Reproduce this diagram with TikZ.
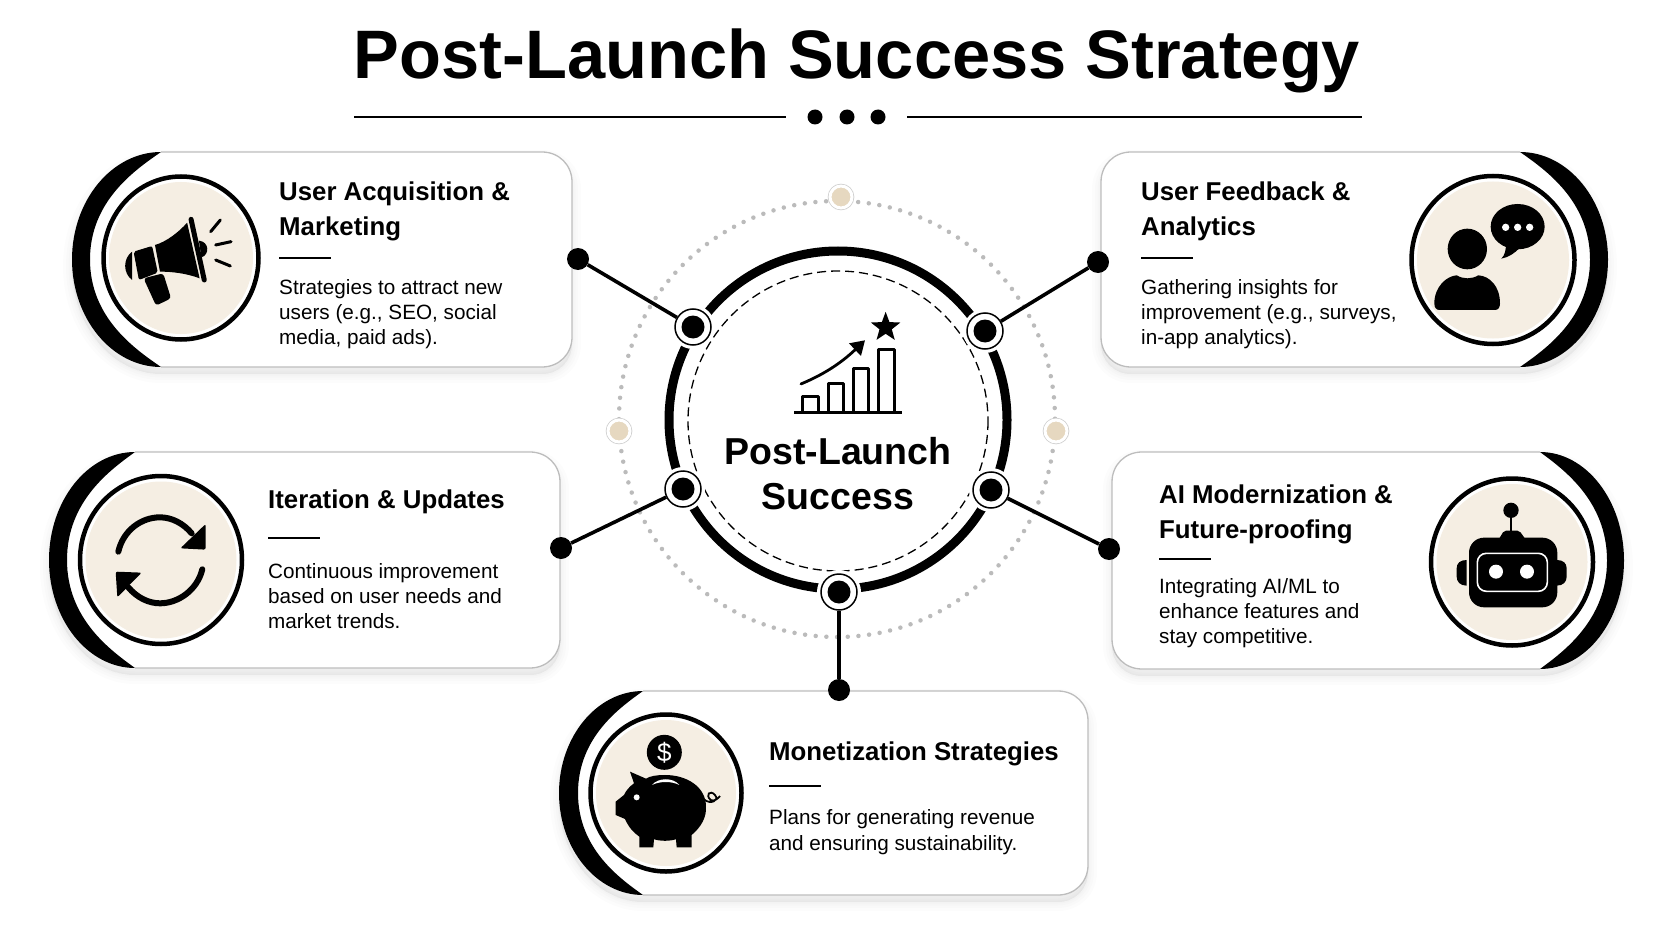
\documentclass[tikz,border=0pt]{standalone}
\usepackage{fontspec}
\setmainfont{Liberation Sans}
\usetikzlibrary{shapes.geometric}

\definecolor{cream}{HTML}{F5EEE3}
\definecolor{beige}{HTML}{E6D8C0}
\definecolor{edgegray}{HTML}{BDBDBD}
\definecolor{dotgray}{HTML}{BBBBBB}

% outer x, inner x, end x, right x, top, bottom
\newcommand{\cardshape}[6]{
    \pgfmathsetmacro\cardmid{(#5+#6)/2}
    \pgfmathsetmacro\cardsgn{#4>#3 ? 1 : -1}
    \pgfmathsetmacro\oa{#3-.55*(#3-#1)}
    \pgfmathsetmacro\ob{\cardmid-.55*(\cardmid-#5)}
    \pgfmathsetmacro\oc{\cardmid+.55*(\cardmid-#5)}
    \pgfmathsetmacro\ia{#3-.35*(#3-#2)}
    \pgfmathsetmacro\ib{#5+.16*(\cardmid-#5)}
    \pgfmathsetmacro\ic{#6-.16*(\cardmid-#5)}
    \pgfmathsetmacro\ra{#4-\cardsgn*30}
    \pgfmathsetmacro\rb{#4-\cardsgn*13}
    \def\cardedge{(#3,#5) -- (\ra,#5) .. controls (\rb,#5) and (#4,#5+13) .. (#4,#5+30)
        -- (#4,#6-30) .. controls (#4,#6-13) and (\rb,#6) .. (\ra,#6) -- (#3,#6)}
    \def\cardouter{.. controls (\oa,#6) and (#1,\oc) .. (#1,\cardmid)
        .. controls (#1,\ob) and (\oa,#5) .. (#3,#5)}
    \foreach \w in {18,12,7,3}
        \path[fill=black,draw=black,line width=\w pt,opacity=.012,yshift=-7pt] \cardedge \cardouter -- cycle;
    \fill[white] \cardedge \cardouter -- cycle;
    \draw[edgegray,line width=1.3pt] \cardedge;
    \fill[black] (#3,#6) \cardouter
        .. controls (\ia,\ib) and (#2,\ob) .. (#2,\cardmid)
        .. controls (#2,\oc) and (\ia,\ic) .. (#3,#6) -- cycle;
}

\begin{document}
\begin{tikzpicture}
    [
        x=1pt,y=-1pt,
        every edge/.style={draw,line width=3.6pt},
        headline/.style={anchor=base,inner sep=0,font=\fontsize{68.6}{69}\selectfont\bfseries},
        centertext/.style={align=center,inner sep=0,font=\fontsize{37.5}{45}\selectfont\bfseries},
        heading/.style={anchor=west,align=left,inner sep=0,font=\fontsize{25.8}{35}\selectfont\bfseries},
        body/.style={anchor=west,align=left,inner sep=0,font=\fontsize{20.7}{25.3}\selectfont},
        rulemark/.style={line width=2pt},
        medal/.style 2 args={ellipse,draw,fill=white,line width=4.5pt,inner sep=0,minimum width=#1pt,minimum height=#2pt},
        medalfill/.style 2 args={ellipse,fill=cream,inner sep=0,minimum width=#1pt,minimum height=#2pt},
        hub/.style={circle,draw,fill=white,line width=1.5pt,inner sep=0,minimum size=36pt,
            preaction={draw=white,line width=8pt},
            path picture={\fill[black] (path picture bounding box.center) circle (11.5pt);}},
        enddot/.style={circle,fill,inner sep=0,minimum size=22pt},
        bead/.style={circle,fill=beige,draw=white,line width=3pt,inner sep=0,minimum size=22pt,
            preaction={draw=black!20,line width=4.5pt}},
        smalldot/.style={circle,fill,inner sep=0,minimum size=15pt},
    ]

    \useasboundingbox[fill=white] (0,0) rectangle (1672,941);

    % title
    \node (title) at (857,79) [headline] {Post-Launch Success Strategy};
    \node (mark1) at (815,117) [smalldot] {};
    \node (mark2) at (847,117) [smalldot] {};
    \node (mark3) at (878,117) [smalldot] {};
    \coordinate (ruleL) at (354,117);
    \coordinate (ruleR) at (1362,117);
    \draw[line width=2pt] (ruleL) -- (786,117);
    \draw[line width=2pt] (907,117) -- (ruleR);

    % cards
    \cardshape{72}{90}{161}{572}{152}{367}
    \cardshape{1608}{1590}{1520}{1101}{152}{367}
    \cardshape{49}{67}{135}{560}{452}{668}
    \cardshape{1624}{1607}{1540}{1112}{452}{669}
    \cardshape{559}{578}{643}{1088}{691}{895}

    % medals
    \node (medalA) at (181,258)  [medal={155}{163}] {};
    \node (medalB) at (1493,260) [medal={163}{168}] {};
    \node (medalC) at (161,560)  [medal={162}{168}] {};
    \node (medalD) at (1512,562) [medal={162}{167}] {};
    \node (medalE) at (666,793)  [medal={151}{157}] {};
    \node at (medalA) [medalfill={144}{152}] {};
    \node at (medalB) [medalfill={152}{157}] {};
    \node at (medalC) [medalfill={151}{157}] {};
    \node at (medalD) [medalfill={151}{156}] {};
    \node at (medalE) [medalfill={140}{146}] {};

    % card texts
    \node (headA) at (279,211) [heading] {User Acquisition \&\\Marketing};
    \draw[rulemark] (279,258) -- (331,258);
    \node (bodyA) at (279,314) [body] {Strategies to attract new\\users (e.g., SEO, social\\media, paid ads).};

    \node (headB) at (1141,211) [heading] {User Feedback \&\\Analytics};
    \draw[rulemark] (1141,258) -- (1193,258);
    \node (bodyB) at (1141,314) [body] {Gathering insights for\\improvement (e.g., surveys,\\in-app analytics).};

    \node (headC) at (268,502) [heading] {Iteration \& Updates};
    \draw[rulemark] (268,538) -- (320,538);
    \node (bodyC) at (268,596) [body] {Continuous improvement\\based on user needs and\\market trends.};

    \node (headD) at (1159,514) [heading] {AI Modernization \&\\Future-proofing};
    \draw[rulemark] (1159,559) -- (1211,559);
    \node (bodyD) at (1159,613) [body] {Integrating AI/ML to\\enhance features and\\stay competitive.};

    \node (headE) at (769,754) [heading] {Monetization Strategies};
    \draw[rulemark] (769,786) -- (821,786);
    \node (bodyE) at (769,832) [body] {Plans for generating revenue\\and ensuring sustainability.};

    % center rings
    \draw[dotgray,line width=4.5pt,line cap=round,dash pattern=on 0pt off 10.7pt] (837,419) circle (218);
    \draw[line width=9pt] (838,420) circle (169);
    \draw[line width=1.3pt,dash pattern=on 9pt off 5pt] (838,421) circle (150);

    \node (beadT) at (841,197)  [bead] {};
    \node (beadL) at (619,431)  [bead] {};
    \node (beadR) at (1056,431) [bead] {};

    \node (center) at (838,474) [centertext] {Post-Launch\\Success};

    % chart icon
    \begin{scope}[shift={(600,170)},x=.3333pt,y=-.3333pt]
        \draw[line width=2.8pt] (583,728) -- (905,728);
        \draw[line width=2.8pt,line join=round] (607,728) -- (607,680) -- (656,680) -- (656,728);
        \draw[line width=2.8pt,line join=round] (685,728) -- (685,640) -- (731,640) -- (731,728);
        \draw[line width=2.8pt,line join=round] (760,728) -- (760,596) -- (806,596) -- (806,728);
        \draw[line width=2.8pt,line join=round] (835,728) -- (835,538) -- (883,538) -- (883,728);
        \draw[line width=2.8pt,line cap=round] (603,642) .. controls (660,618) and (720,585) .. (775,530);
        \fill (795,511) -- (747,520) -- (783,558) -- cycle;
        \node (star) at (857,472) [star,star points=5,star point ratio=2.4,fill,inner sep=0,minimum size=31pt] {};
    \end{scope}

    % hubs and connectors
    \node (hubA) at (693,327) [hub] {};
    \node (hubB) at (985,331) [hub] {};
    \node (hubC) at (683,489) [hub] {};
    \node (hubD) at (991,490) [hub] {};
    \node (hubE) at (839,592) [hub] {};
    \node (dotA) at (578,259)  [enddot] {};
    \node (dotB) at (1098,262) [enddot] {};
    \node (dotC) at (561,548)  [enddot] {};
    \node (dotD) at (1109,549) [enddot] {};
    \node (dotE) at (839,690)  [enddot] {};

    \path
    (dotA) edge (hubA)
    (dotB) edge (hubB)
    (dotC) edge (hubC)
    (dotD) edge (hubD)
    (dotE) edge (hubE);

    % megaphone
    \begin{scope}[shift={(40,130)},x=.3571pt,y=-.3333pt]
        \fill (258,365) .. controls (232,385) and (232,430) .. (258,450) -- cycle;
        \fill[rounded corners=2pt] (262,365) -- (314,348) -- (330,428) -- (277,450) -- cycle;
        \fill (322,345) .. controls (355,335) and (390,305) .. (412,278) -- (447,445) .. controls (410,430) and (370,425) .. (336,425) -- cycle;
        \fill (445,332) .. controls (475,335) and (475,375) .. (452,382) -- cycle;
        \fill[rounded corners=3pt] (290,445) -- (345,430) -- (367,505) -- (325,527) -- cycle;
        \draw[line width=5pt,line cap=round] (423,268) -- (460,450);
        \draw[line width=3pt,line cap=round] (478,305) -- (505,270);
        \draw[line width=3pt,line cap=round] (492,345) -- (535,335);
        \draw[line width=3pt,line cap=round] (492,390) -- (533,408);
    \end{scope}

    % person with bubble
    \begin{scope}[shift={(1340,130)},x=.3333pt,y=-.3333pt]
        \fill (382,357) circle [x radius=59,y radius=61];
        \fill (283,520) .. controls (283,470) and (320,438) .. (350,436) .. controls (370,448) and (395,448) .. (415,436)
            .. controls (450,438) and (480,470) .. (480,520) .. controls (480,532) and (475,540) .. (465,540)
            -- (298,540) .. controls (288,540) and (283,532) .. (283,520) -- cycle;
        \fill (533,290) circle [x radius=81,y radius=68];
        \fill (498,340) .. controls (498,360) and (495,375) .. (484,386) .. controls (505,382) and (525,370) .. (540,352) -- cycle;
        \fill[white] (497,292) circle (11);
        \fill[white] (533,292) circle (11);
        \fill[white] (569,292) circle (11);
    \end{scope}

    % sync arrows
    \begin{scope}[shift={(40,440)},x=.3333pt,y=-.3333pt]
        \draw[line width=6pt,line cap=round] (235,335) .. controls (250,270) and (305,232) .. (360,232) .. controls (395,232) and (430,250) .. (455,280);
        \fill[rounded corners=2pt] (497,252) -- (497,329) -- (421,325) -- cycle;
        \draw[line width=6pt,line cap=round] (487,388) .. controls (472,450) and (415,490) .. (360,490) .. controls (325,490) and (290,472) .. (265,442);
        \fill[rounded corners=2pt] (227,395) -- (305,398) -- (232,472) -- cycle;
    \end{scope}

    % robot
    \begin{scope}[shift={(1400,440)},x=.3333pt,y=-.3333pt]
        \fill (333,211) circle (23);
        \draw[line width=2.6pt] (333,230) -- (333,275);
        \fill[rounded corners=2pt] (295,300) -- (312,272) -- (358,272) -- (378,300) -- cycle;
        \fill[rounded corners=15pt] (207,293) rectangle (472,502);
        \fill (200,360) -- (200,437) .. controls (180,437) and (170,425) .. (170,410) -- (170,385) .. controls (170,370) and (180,360) .. (200,360) -- cycle;
        \fill (470,360) -- (470,437) .. controls (490,437) and (500,425) .. (500,410) -- (500,385) .. controls (500,370) and (490,360) .. (470,360) -- cycle;
        \draw[white,line width=1.6pt,rounded corners=9pt] (232,340) rectangle (442,454);
        \fill[white] (288,395) circle (21);
        \fill[white] (381,395) circle (21);
    \end{scope}

    % piggy bank
    \begin{scope}[shift={(550,680)},x=.3333pt,y=-.3333pt]
        \node (coin) at (343,217) [circle,fill,inner sep=0,minimum size=35pt,text=white,font=\fontsize{26}{26}\selectfont] {\$};
        \fill (197,365) -- (197,405) -- (225,417) .. controls (235,440) and (250,458) .. (268,470) -- (268,502) -- (310,502) -- (312,478)
            .. controls (335,484) and (355,484) .. (378,478) -- (380,502) -- (425,502) -- (425,465)
            .. controls (455,440) and (470,410) .. (468,380) .. controls (468,320) and (410,285) .. (345,285)
            .. controls (320,285) and (300,288) .. (288,296) -- (240,275) -- (252,310) .. controls (238,320) and (228,332) .. (222,345) -- cycle;
        \draw[line width=1.8pt] (462,358) .. controls (480,375) and (510,362) .. (495,345) .. controls (480,328) and (465,345) .. (482,360) .. controls (492,366) and (505,355) .. (510,348);
        \fill[white] (260,352) circle (9);
        \fill[white] (306,315) .. controls (325,292) and (370,292) .. (388,315) .. controls (365,303) and (330,303) .. (306,315) -- cycle;
    \end{scope}

\end{tikzpicture}
\end{document}
